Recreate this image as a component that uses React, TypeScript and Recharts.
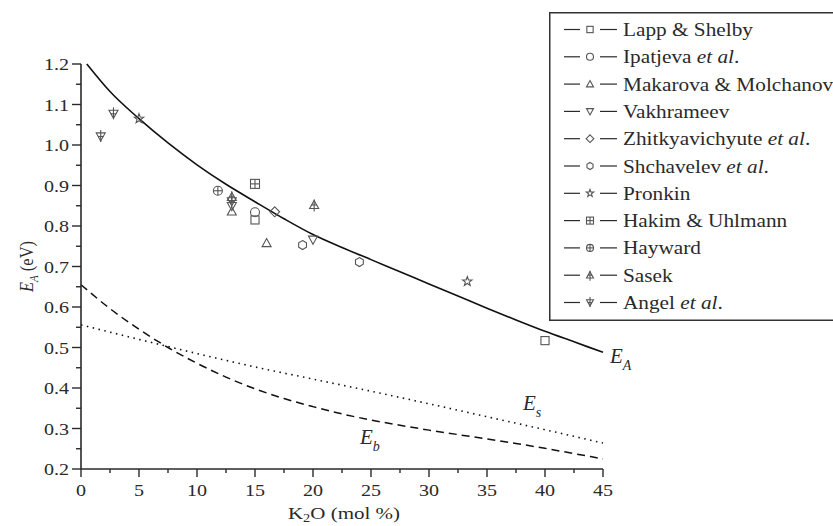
import React from "react";
import { ComposedChart, Line, Scatter, XAxis, YAxis, Legend, ReferenceDot, Label } from "recharts";

// measured points, one array per source
const lappShelby = [{ x: 15, y: 0.815 }, { x: 40, y: 0.517 }];
const ipatjeva = [{ x: 15, y: 0.834 }];
const makarova = [{ x: 13, y: 0.836 }, { x: 16, y: 0.758 }];
const vakhrameev = [{ x: 13, y: 0.849 }, { x: 20, y: 0.766 }];
const zhitkyavichyute = [{ x: 16.7, y: 0.835 }];
const shchavelev = [{ x: 19.1, y: 0.753 }, { x: 24, y: 0.711 }];
const pronkin = [{ x: 5, y: 1.065 }, { x: 33.3, y: 0.663 }];
const hakim = [{ x: 15, y: 0.904 }];
const hayward = [{ x: 11.8, y: 0.887 }];
const sasek = [{ x: 13, y: 0.872 }, { x: 20.1, y: 0.852 }];
const angel = [{ x: 1.7, y: 1.021 }, { x: 2.8, y: 1.077 }, { x: 13, y: 0.861 }];

// model curves
const eaCurve = [
  { x: 0.5, y: 1.2 }, { x: 2.5, y: 1.132 }, { x: 5, y: 1.065 }, { x: 7.5, y: 1.005 },
  { x: 10, y: 0.951 }, { x: 12.5, y: 0.903 }, { x: 15, y: 0.86 }, { x: 17.5, y: 0.818 },
  { x: 20, y: 0.779 }, { x: 22.5, y: 0.747 }, { x: 25, y: 0.717 }, { x: 27.5, y: 0.687 },
  { x: 30, y: 0.657 }, { x: 32.5, y: 0.627 }, { x: 35, y: 0.597 }, { x: 37.5, y: 0.568 },
  { x: 40, y: 0.54 }, { x: 42.5, y: 0.514 }, { x: 45, y: 0.488 },
];
const esCurve = [
  { x: 0, y: 0.556 }, { x: 5, y: 0.52 }, { x: 10, y: 0.485 }, { x: 15, y: 0.452 },
  { x: 20, y: 0.422 }, { x: 25, y: 0.392 }, { x: 30, y: 0.361 }, { x: 35, y: 0.329 },
  { x: 40, y: 0.297 }, { x: 45, y: 0.264 },
];
const ebCurve = [
  { x: 0, y: 0.655 }, { x: 2.5, y: 0.596 }, { x: 5, y: 0.545 }, { x: 7.5, y: 0.5 },
  { x: 10, y: 0.461 }, { x: 12.5, y: 0.427 }, { x: 15, y: 0.398 }, { x: 17.5, y: 0.374 },
  { x: 20, y: 0.354 }, { x: 22.5, y: 0.336 }, { x: 25, y: 0.321 }, { x: 27.5, y: 0.308 },
  { x: 30, y: 0.296 }, { x: 32.5, y: 0.285 }, { x: 35, y: 0.274 }, { x: 37.5, y: 0.263 },
  { x: 40, y: 0.251 }, { x: 42.5, y: 0.238 }, { x: 45, y: 0.225 },
];

const xTicks = [0, 2.5, 5, 7.5, 10, 12.5, 15, 17.5, 20, 22.5, 25, 27.5, 30, 32.5, 35, 37.5, 40, 42.5, 45];
const yTicks = [0.2, 0.25, 0.3, 0.35, 0.4, 0.45, 0.5, 0.55, 0.6, 0.65, 0.7, 0.75, 0.8, 0.85, 0.9, 0.95, 1.0, 1.05, 1.1, 1.15, 1.2];

const sources = [
  { name: "Lapp & Shelby", kind: "square", data: lappShelby },
  { name: "Ipatjeva et al.", kind: "circle", data: ipatjeva },
  { name: "Makarova & Molchanov", kind: "up", data: makarova },
  { name: "Vakhrameev", kind: "down", data: vakhrameev },
  { name: "Zhitkyavichyute et al.", kind: "diamond", data: zhitkyavichyute },
  { name: "Shchavelev et al.", kind: "hexagon", data: shchavelev },
  { name: "Pronkin", kind: "star", data: pronkin },
  { name: "Hakim & Uhlmann", kind: "squarePlus", data: hakim },
  { name: "Hayward", kind: "circlePlus", data: hayward },
  { name: "Sasek", kind: "upCross", data: sasek },
  { name: "Angel et al.", kind: "downCross", data: angel },
];

const INK = "#2a2a2a";
const MARK = "#555";
const SERIF = "'Liberation Serif', 'DejaVu Serif', serif";

function Marker({ kind, cx, cy, s }: { kind: string; cx: number; cy: number; s: number }) {
  const h = s / 2;
  const st = { fill: "none", stroke: MARK, strokeWidth: 1.1 };
  const poly = (pts: number[][]) => pts.map((p) => `${cx + p[0]},${cy + p[1]}`).join(" ");
  const up = poly([[0, -h], [h, h * 0.8], [-h, h * 0.8]]);
  const down = poly([[0, h], [h, -h * 0.8], [-h, -h * 0.8]]);
  switch (kind) {
    case "square":
      return <rect x={cx - h * 0.9} y={cy - h * 0.9} width={s * 0.9} height={s * 0.9} {...st} />;
    case "circle":
      return <circle cx={cx} cy={cy} r={h} {...st} />;
    case "up":
      return <polygon points={up} {...st} />;
    case "down":
      return <polygon points={down} {...st} />;
    case "diamond":
      return <polygon points={poly([[0, -h * 1.1], [h * 1.1, 0], [0, h * 1.1], [-h * 1.1, 0]])} {...st} />;
    case "hexagon": {
      const pts = [0, 1, 2, 3, 4, 5].map((i) => {
        const a = (Math.PI / 3) * i - Math.PI / 2;
        return [h * Math.cos(a), h * Math.sin(a)];
      });
      return <polygon points={poly(pts)} {...st} />;
    }
    case "star": {
      const pts = [0, 1, 2, 3, 4, 5, 6, 7, 8, 9].map((i) => {
        const a = (Math.PI / 5) * i - Math.PI / 2;
        const r = i % 2 === 0 ? h * 1.1 : h * 0.45;
        return [r * Math.cos(a), r * Math.sin(a)];
      });
      return <polygon points={poly(pts)} {...st} />;
    }
    case "squarePlus":
      return (
        <g {...st}>
          <rect x={cx - h} y={cy - h} width={s} height={s} />
          <line x1={cx} x2={cx} y1={cy - h} y2={cy + h} />
          <line x1={cx - h} x2={cx + h} y1={cy} y2={cy} />
        </g>
      );
    case "circlePlus":
      return (
        <g {...st}>
          <circle cx={cx} cy={cy} r={h} />
          <line x1={cx} x2={cx} y1={cy - h} y2={cy + h} />
          <line x1={cx - h} x2={cx + h} y1={cy} y2={cy} />
        </g>
      );
    case "upCross":
      return (
        <g {...st}>
          <polygon points={up} />
          <line x1={cx} x2={cx} y1={cy - h - 1} y2={cy + h + 2} />
          <line x1={cx - h * 0.6} x2={cx + h * 0.6} y1={cy} y2={cy} />
        </g>
      );
    case "downCross":
      return (
        <g {...st}>
          <polygon points={down} />
          <line x1={cx} x2={cx} y1={cy - h - 2} y2={cy + h + 1} />
          <line x1={cx - h * 0.6} x2={cx + h * 0.6} y1={cy} y2={cy} />
        </g>
      );
    default:
      return null;
  }
}

const XTick = (props: any) => {
  const { x, y, payload } = props;
  const major = payload.value % 5 === 0;
  return (
    <g>
      <line x1={x} x2={x} y1={y} y2={y + (major ? 8 : 4)} stroke={INK} strokeWidth={1.4} />
      {major && (
        <text transform={`translate(${x},${y + 27}) scale(1.18,1)`} textAnchor="middle" fontSize={17} fontFamily={SERIF} fill={INK}>
          {payload.value}
        </text>
      )}
    </g>
  );
};

const YTick = (props: any) => {
  const { x, y, payload } = props;
  const major = Math.round(payload.value * 100) % 10 === 0;
  return (
    <g>
      <line x1={x} x2={x - (major ? 9 : 5)} y1={y} y2={y} stroke={INK} strokeWidth={1.4} />
      {major && (
        <text transform={`translate(${x - 12},${y + 6}) scale(1.18,1)`} textAnchor="end" fontSize={17} fontFamily={SERIF} fill={INK}>
          {payload.value.toFixed(1)}
        </text>
      )}
    </g>
  );
};

const CurveLabel = (sub: string) => (p: any) => (
  <text x={p.cx} y={p.cy} fontFamily={SERIF} fontStyle="italic" fontSize={21} fill={INK}>
    E
    <tspan fontSize={14} dy={7}>{sub}</tspan>
  </text>
);

const renderLegend = () => (
  <svg width={300} height={312} style={{ display: "block" }}>
    <rect x={0.75} y={0.75} width={320} height={307.5} fill="#fff" stroke="#333" strokeWidth={1.5} />
    {sources.map((s, i) => {
      const cy = 17.5 + 27.3 * i;
      const parts = s.name.split(" et al.");
      const hasEtAl = parts.length > 1;
      return (
        <g key={s.name}>
          <line x1={15} x2={31} y1={cy} y2={cy} stroke={INK} strokeWidth={1.2} />
          <line x1={51} x2={68} y1={cy} y2={cy} stroke={INK} strokeWidth={1.2} />
          <Marker kind={s.kind} cx={41} cy={cy} s={7} />
          <text transform={`translate(74,${cy + 6.5}) scale(1.12,1)`} fontSize={19} fontFamily={SERIF} fill={INK}>
            {parts[0]}
            {hasEtAl && (
              <>
                {" "}
                <tspan fontStyle="italic">et al</tspan>.
              </>
            )}
          </text>
        </g>
      );
    })}
  </svg>
);

export default function App() {
  return (
    <div style={{ position: "fixed", left: 0, top: 0, width: 833, height: 526, overflow: "hidden", background: "#fff" }}>
      <ComposedChart width={833} height={526} margin={{ top: 64, right: 230, bottom: 0, left: 0 }}>
        <XAxis
          type="number"
          dataKey="x"
          domain={[0, 45]}
          ticks={xTicks}
          interval={0}
          height={57}
          tickSize={0}
          tickMargin={0}
          tickLine={false}
          tick={<XTick />}
          axisLine={{ stroke: INK, strokeWidth: 1.6 }}
        >
          <Label
            content={(p: any) => (
              <text
                transform={`translate(${p.viewBox.x + p.viewBox.width / 2 + 2},${p.viewBox.y + 50}) scale(1.2,1)`}
                textAnchor="middle"
                fontSize={17.5}
                fontFamily={SERIF}
                fill={INK}
              >
                K<tspan fontSize={12} dy={3}>2</tspan>
                <tspan dy={-3}>O (mol %)</tspan>
              </text>
            )}
          />
        </XAxis>
        <YAxis
          type="number"
          dataKey="y"
          domain={[0.2, 1.2]}
          ticks={yTicks}
          interval={0}
          width={81}
          tickSize={0}
          tickMargin={0}
          tickLine={false}
          tick={<YTick />}
          axisLine={{ stroke: INK, strokeWidth: 1.6 }}
        >
          <Label
            content={(p: any) => (
              <text
                transform={`translate(33,${p.viewBox.y + p.viewBox.height / 2}) rotate(-90) scale(1,1.15)`}
                textAnchor="middle"
                fontSize={16.5}
                fontFamily={SERIF}
                fill={INK}
              >
                <tspan fontStyle="italic">E</tspan>
                <tspan fontStyle="italic" fontSize={11} dy={4}>A</tspan>
                <tspan dy={-4}> (eV)</tspan>
              </text>
            )}
          />
        </YAxis>
        <Legend
          content={renderLegend}
          layout="horizontal"
          verticalAlign="middle"
          align="center"
          wrapperStyle={{ position: "absolute", left: 549, top: 12, width: 300, height: 312 }}
        />
        <Line data={eaCurve} dataKey="y" type="monotone" stroke="#111" strokeWidth={1.6} dot={false} isAnimationActive={false} legendType="none" />
        <Line data={esCurve} dataKey="y" type="monotone" stroke="#111" strokeWidth={1.6} strokeDasharray="1.5 4.5" dot={false} isAnimationActive={false} legendType="none" />
        <Line data={ebCurve} dataKey="y" type="monotone" stroke="#111" strokeWidth={1.5} strokeDasharray="8 5" dot={false} isAnimationActive={false} legendType="none" />
        {sources.map((s) => (
          <Scatter
            key={s.name}
            name={s.name}
            data={s.data}
            dataKey="y"
            isAnimationActive={false}
            shape={(p: any) => <Marker kind={s.kind} cx={p.cx} cy={p.cy} s={9} />}
          />
        ))}
        <ReferenceDot x={45.6} y={0.4625} r={0} ifOverflow="visible" shape={CurveLabel("A")} />
        <ReferenceDot x={38.1} y={0.346} r={0} ifOverflow="visible" shape={CurveLabel("s")} />
        <ReferenceDot x={24.05} y={0.2625} r={0} ifOverflow="visible" shape={CurveLabel("b")} />
      </ComposedChart>
    </div>
  );
}
